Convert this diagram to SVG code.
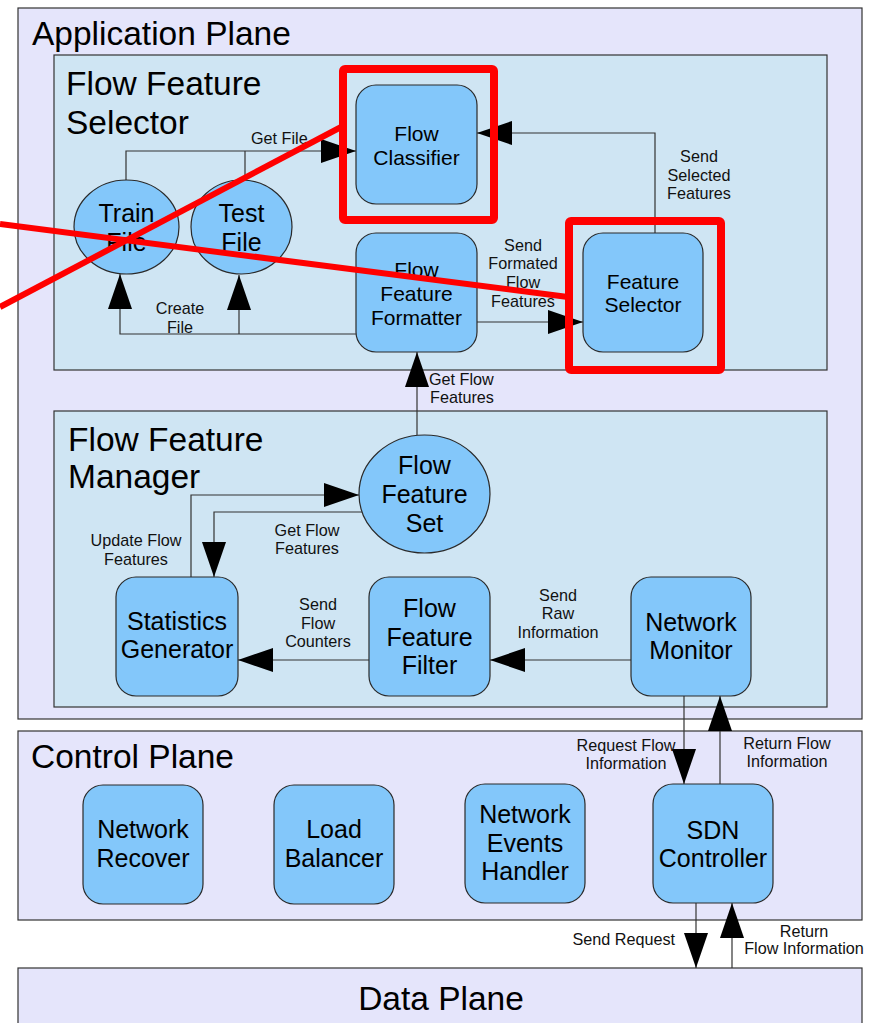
<svg xmlns="http://www.w3.org/2000/svg" width="871" height="1023" viewBox="0 0 871 1023">
  <style>
    .plane { fill: #e5e5fb; stroke: #333; stroke-width: 1.2; }
    .module { fill: #cfe5f3; stroke: #333; stroke-width: 1.2; }
    .node { fill: #83c7fa; stroke: #2a2a2a; stroke-width: 1.2; }
    .title { font-family: "Liberation Sans", Arial, sans-serif; font-size: 33.5px; fill: #000; }
    .big { font-family: "Liberation Sans", Arial, sans-serif; font-size: 25px; fill: #000; text-anchor: middle; }
    .mid { font-family: "Liberation Sans", Arial, sans-serif; font-size: 21px; fill: #000; text-anchor: middle; }
    .lbl { font-family: "Liberation Sans", Arial, sans-serif; font-size: 16.2px; fill: #111; text-anchor: middle; }
    .lbl.start { text-anchor: start; }
    .lbl.end { text-anchor: end; }
    .center { text-anchor: middle; }
    .conn { fill: none; stroke: #333; stroke-width: 1.2; }
    .hl { fill: none; stroke: #ff0000; stroke-width: 8; stroke-linejoin: round; }
    .hline { stroke: #ff0000; stroke-width: 6; stroke-linecap: butt; }
  </style>
  <defs>
    <marker id="arrow" viewBox="0 0 35 24" markerWidth="35" markerHeight="24" refX="35" refY="12" orient="auto" markerUnits="userSpaceOnUse">
      <path d="M0,0 L35,12 L0,24 Z" fill="#000"/>
    </marker>
  </defs>

  <!-- planes -->
  <g id="application-plane">
    <rect class="plane" x="18" y="8" width="844" height="711"/>
    <text class="title" x="32" y="45">Application Plane</text>
  </g>
  <g id="control-plane">
    <rect class="plane" x="18" y="731" width="844" height="189"/>
    <text class="title" x="31" y="768">Control Plane</text>
  </g>
  <g id="data-plane">
    <rect class="plane" x="18" y="968" width="844" height="70"/>
    <text class="title center" x="441" y="1010">Data Plane</text>
  </g>

  <!-- modules -->
  <g id="flow-feature-selector">
    <rect class="module" x="54" y="55" width="773" height="315"/>
    <text class="title" x="66" y="95">Flow Feature</text>
    <text class="title" x="66" y="134">Selector</text>
  </g>
  <g id="flow-feature-manager">
    <rect class="module" x="54" y="411" width="773" height="296"/>
    <text class="title" x="68" y="451">Flow Feature</text>
    <text class="title" x="68" y="488">Manager</text>
  </g>

  <!-- connectors -->
  <g id="connectors">
    <path class="conn" d="M126,180 V151 H356" marker-end="url(#arrow)"/>
    <path class="conn" d="M245,180 V151"/>
    <path class="conn" d="M356,334 H120 V274" marker-end="url(#arrow)"/>
    <path class="conn" d="M239,334 V275" marker-end="url(#arrow)"/>
    <path class="conn" d="M477,322 H583" marker-end="url(#arrow)"/>
    <path class="conn" d="M655,233 V133 H477" marker-end="url(#arrow)"/>
    <path class="conn" d="M417,435 V352" marker-end="url(#arrow)"/>
    <path class="conn" d="M191,577 V495 H359" marker-end="url(#arrow)"/>
    <path class="conn" d="M362,512 H214 V577" marker-end="url(#arrow)"/>
    <path class="conn" d="M369,660 H238" marker-end="url(#arrow)"/>
    <path class="conn" d="M631,660 H490" marker-end="url(#arrow)"/>
    <path class="conn" d="M684,696 V784" marker-end="url(#arrow)"/>
    <path class="conn" d="M720,784 V696" marker-end="url(#arrow)"/>
    <path class="conn" d="M696,903 V968" marker-end="url(#arrow)"/>
    <path class="conn" d="M732,968 V903" marker-end="url(#arrow)"/>

    <text class="lbl start" x="251" y="144">Get File</text>
    <text class="lbl" x="180" y="314">Create</text>
    <text class="lbl" x="180" y="333">File</text>
    <text class="lbl" x="699" y="162">Send</text>
    <text class="lbl" x="699" y="181">Selected</text>
    <text class="lbl" x="699" y="199">Features</text>
    <text class="lbl" x="523" y="251">Send</text>
    <text class="lbl" x="523" y="269">Formated</text>
    <text class="lbl" x="523" y="288">Flow</text>
    <text class="lbl" x="523" y="307">Features</text>
    <text class="lbl start" x="429" y="385">Get Flow</text>
    <text class="lbl start" x="430" y="403">Features</text>
    <text class="lbl" x="136" y="546">Update Flow</text>
    <text class="lbl" x="136" y="565">Features</text>
    <text class="lbl" x="307" y="536">Get Flow</text>
    <text class="lbl" x="307" y="554">Features</text>
    <text class="lbl" x="318" y="610">Send</text>
    <text class="lbl" x="318" y="629">Flow</text>
    <text class="lbl" x="318" y="647">Counters</text>
    <text class="lbl" x="558" y="601">Send</text>
    <text class="lbl" x="558" y="619">Raw</text>
    <text class="lbl" x="558" y="638">Information</text>
    <text class="lbl" x="626" y="751">Request Flow</text>
    <text class="lbl" x="626" y="769">Information</text>
    <text class="lbl" x="787" y="749">Return Flow</text>
    <text class="lbl" x="787" y="767">Information</text>
    <text class="lbl end" x="675" y="945">Send Request</text>
    <text class="lbl" x="804" y="937">Return</text>
    <text class="lbl" x="804" y="954">Flow Information</text>
  </g>

  <!-- nodes -->
  <g id="flow-classifier">
    <rect class="node" x="356" y="85" width="121" height="119" rx="20"/>
    <text class="mid" x="416.5" y="141">Flow</text>
    <text class="mid" x="416.5" y="165">Classifier</text>
  </g>
  <g id="feature-selector">
    <rect class="node" x="583" y="233" width="120" height="119" rx="20"/>
    <text class="mid" x="643" y="289">Feature</text>
    <text class="mid" x="643" y="312">Selector</text>
  </g>
  <g id="flow-feature-formatter">
    <rect class="node" x="356" y="233" width="121" height="119" rx="20"/>
    <text class="mid" x="416.5" y="277">Flow</text>
    <text class="mid" x="416.5" y="301">Feature</text>
    <text class="mid" x="416.5" y="325">Formatter</text>
  </g>
  <g id="train-file">
    <ellipse class="node" cx="126.5" cy="227" rx="52.5" ry="47"/>
    <text class="big" x="126.5" y="222">Train</text>
    <text class="big" x="126.5" y="251">File</text>
  </g>
  <g id="test-file">
    <ellipse class="node" cx="241.5" cy="227" rx="50.5" ry="47"/>
    <text class="big" x="241.5" y="222">Test</text>
    <text class="big" x="241.5" y="251">File</text>
  </g>
  <g id="flow-feature-set">
    <ellipse class="node" cx="424.5" cy="494" rx="65.5" ry="59"/>
    <text class="big" x="424.5" y="474">Flow</text>
    <text class="big" x="424.5" y="503">Feature</text>
    <text class="big" x="424.5" y="532">Set</text>
  </g>
  <g id="statistics-generator">
    <rect class="node" x="116" y="577" width="122" height="119" rx="20"/>
    <text class="big" x="177" y="630">Statistics</text>
    <text class="big" x="177" y="658">Generator</text>
  </g>
  <g id="flow-feature-filter">
    <rect class="node" x="369" y="577" width="121" height="119" rx="20"/>
    <text class="big" x="429.5" y="617">Flow</text>
    <text class="big" x="429.5" y="646">Feature</text>
    <text class="big" x="429.5" y="674">Filter</text>
  </g>
  <g id="network-monitor">
    <rect class="node" x="631" y="577" width="120" height="119" rx="20"/>
    <text class="big" x="691" y="631">Network</text>
    <text class="big" x="691" y="659">Monitor</text>
  </g>
  <g id="network-recover">
    <rect class="node" x="83" y="785" width="120" height="119" rx="20"/>
    <text class="big" x="143" y="838">Network</text>
    <text class="big" x="143" y="867">Recover</text>
  </g>
  <g id="load-balancer">
    <rect class="node" x="274" y="785" width="120" height="119" rx="20"/>
    <text class="big" x="334" y="838">Load</text>
    <text class="big" x="334" y="867">Balancer</text>
  </g>
  <g id="network-events-handler">
    <rect class="node" x="465" y="784" width="120" height="119" rx="20"/>
    <text class="big" x="525" y="823">Network</text>
    <text class="big" x="525" y="852">Events</text>
    <text class="big" x="525" y="880">Handler</text>
  </g>
  <g id="sdn-controller">
    <rect class="node" x="653" y="784" width="120" height="119" rx="20"/>
    <text class="big" x="713" y="839">SDN</text>
    <text class="big" x="713" y="867">Controller</text>
  </g>

  <!-- red highlight marks -->
  <g id="highlights">
    <rect class="hl" x="343" y="69" width="151" height="151" rx="2"/>
    <rect class="hl" x="569" y="221" width="152" height="149" rx="2"/>
    <line class="hline" x1="0" y1="224" x2="568" y2="297"/>
    <line class="hline" x1="0" y1="307" x2="343" y2="126"/>
  </g>
</svg>
